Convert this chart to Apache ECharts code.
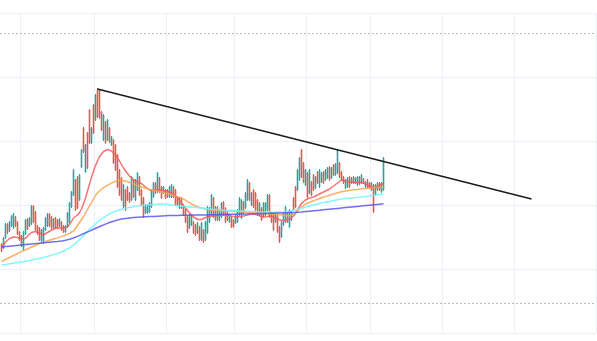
<!DOCTYPE html>
<html>
<head>
<meta charset="utf-8">
<script src="https://cdn.jsdelivr.net/npm/echarts@6/dist/echarts.min.js"></script>
<style>
  html, body { margin: 0; padding: 0; background: #fff; }
  #chart { width: 597px; height: 341px; }
</style>
</head>
<body>
<div id="chart"></div>
<script>
// x axis: one slot per day, only the first part holds candles
const categories = Array.from({ length: 298 }, (_, i) => "D" + (i + 1));
// category indices where the vertical grid lines fall
const gridMarks = [10, 47, 83, 117, 153, 185, 221, 257];

// [open, close, low, high]
const candles = [
  [89,82,81,90],[85,95,84,96],[95,109,94,110],[109,100,99,110],[102,111,101,112],
  [107,117,106,118],[105,119,104,120],[116,107,106,117],[111,99,98,112],[101,93,92,102],
  [97,87,86,98],[83,101,82,102],[99,113,98,114],[114,104,103,115],[107,115,106,116],
  [109,127,108,128],[127,111,110,128],[121,103,102,122],[107,99,98,108],[105,93,92,106],
  [92,103,91,104],[90,105,89,106],[103,115,102,116],[107,119,106,120],[119,107,106,120],
  [116,105,104,117],[105,114,104,115],[115,105,104,116],[113,105,104,114],[107,114,106,115],
  [111,103,102,112],[107,101,100,108],[101,107,100,108],[106,120,105,121],[111,130,110,131],
  [126,141,125,142],[138,163,137,164],[153,123,122,154],[156,125,124,157],[133,158,132,159],
  [166,183,165,184],[205,181,180,206],[161,188,160,189],[200,165,164,201],[223,190,189,224],
  [190,205,189,206],[228,200,199,229],[213,238,212,239],[243,216,215,245],[243,215,214,244],
  [221,203,202,222],[193,218,192,219],[211,190,189,212],[193,213,192,214],[205,191,190,206],
  [188,196,187,197],[193,170,169,194],[188,163,162,189],[178,146,145,179],[163,138,137,164],
  [155,133,132,156],[126,148,125,149],[143,123,122,144],[146,133,132,147],[140,131,130,141],
  [133,156,132,157],[153,136,135,154],[133,153,132,154],[143,160,142,161],[156,138,137,157],
  [143,128,127,144],[135,116,115,136],[120,128,119,129],[120,128,119,129],[121,130,120,131],
  [126,143,125,144],[136,150,135,151],[150,140,139,151],[141,160,140,161],[155,141,140,156],
  [146,135,134,147],[140,146,139,147],[143,135,134,144],[143,136,135,144],[136,146,135,147],
  [136,148,135,149],[146,136,135,147],[143,128,127,144],[136,128,127,137],[125,135,124,136],
  [135,125,124,136],[128,118,117,129],[123,111,110,124],[116,101,100,117],[105,118,104,119],
  [108,118,107,119],[111,100,99,112],[108,98,97,109],[100,110,99,111],[106,93,92,107],
  [93,110,92,111],[103,91,90,104],[93,111,92,112],[100,126,99,127],[111,125,110,126],
  [118,138,117,139],[135,116,115,136],[113,126,112,127],[126,113,112,127],[113,123,112,124],
  [116,130,115,131],[131,118,117,132],[125,111,110,126],[120,113,112,121],[111,118,110,119],
  [116,106,105,117],[113,106,105,114],[110,118,109,119],[111,123,110,124],[118,135,117,136],
  [115,133,114,134],[131,120,119,132],[125,140,124,141],[133,153,132,154],[150,133,132,151],
  [128,140,127,141],[143,126,125,144],[140,123,122,141],[133,118,117,134],[118,130,117,131],
  [125,113,112,126],[116,130,115,131],[118,130,117,131],[123,138,122,139],[138,116,115,139],
  [120,111,110,121],[120,103,102,121],[111,120,110,121],[118,101,100,119],[106,91,90,107],
  [96,111,95,112],[108,120,107,121],[111,126,110,127],[120,111,110,121],[106,123,105,124],
  [113,121,112,122],[135,123,122,136],[146,126,125,147],[143,163,142,164],[153,175,152,176],
  [183,156,155,184],[170,151,150,171],[148,163,147,164],[160,136,135,161],[140,163,139,164],
  [151,138,137,152],[158,143,142,159],[145,156,144,157],[161,150,149,162],[146,163,145,164],
  [151,160,150,161],[161,150,149,162],[153,163,152,164],[155,165,154,166],[166,153,152,167],
  [155,165,154,166],[168,158,157,169],[158,169,157,170],[160,183,159,184],[170,156,155,171],
  [161,153,152,162],[156,150,149,157],[145,153,144,154],[146,155,145,156],[156,146,145,157],
  [150,155,149,156],[156,150,149,157],[150,155,149,156],[148,156,147,157],[156,149,148,157],
  [150,158,149,159],[154,150,149,155],[146,151,145,152],[153,146,145,154],[150,145,144,151],
  [143,150,142,151],[148,121,120,149],[138,148,137,149],[143,150,142,151],[150,143,142,151],
  [141,150,140,151],[143,175,142,176]
];

const maFast = [
  85,88,91,93,94.5,95.5,96,96,95.5,95,
  94,93,94.5,97,99,100.5,101,101.5,101,100,
  99,98,99,100.5,102,103,104,104.5,105,105,
  105,105,105.5,106,108,111.5,115,116.5,118,120.5,
  124,129,135,142,149,155.5,162,167.5,172,176,
  179,181.5,183,183.5,183,182,180.5,178,175,172,
  168.5,165,162,159.5,157,155,153.5,152,151,150.5,
  149.5,148,146,144,143,142.5,142.5,143,143.5,143.5,
  143,142.5,142,141.5,141,140,139,137,135,132.5,
  130,127.5,125,122.5,120,118,116,114.5,113.5,113,
  113.5,114.5,115.5,116,116.5,117,117,117,117.5,118,
  118,118.5,118.5,118,117.5,117,116.5,116,116,116,
  116.5,117,117.5,118,118.5,119,119,118.5,118,117,
  116.5,116,116,116.5,117,116.5,116,115,114,113,
  112.5,112.5,113,113.5,114,115,117,119.5,123,126.5,
  129.5,131.5,133,134,135,135.5,136,137,138,139,
  140,141,142,143,144,145.5,147,148.5,150,151.5,
  153,152.5,152,151.5,151,151,150.5,150.5,150.5,150.5,
  150.5,150,149,148,147,146,145,145.5,146.5,147.5,
  148.5,150
];

const maMid = [
  71.5,72.5,73.5,74.5,75.5,76.5,77.5,78.5,79.5,80.5,
  81.4,82.3,83.2,84.1,85.0,85.9,86.8,87.7,88.6,89.5,
  90.3,91.0,91.6,92.2,92.8,93.4,94.0,94.6,95.1,95.6,
  96.4,97.2,98.0,98.8,99.6,100.6,102.0,104.5,107.5,110.5,
  113.5,116.5,120.0,123.5,127.0,130.5,134.0,137.5,140.0,142.0,
  143.8,145.3,146.6,147.8,148.8,149.8,150.8,151.8,152.6,152.8,
  152.8,152.5,152.0,151.3,150.6,149.9,149.1,148.3,147.5,146.6,
  146.0,145.4,144.8,144.2,143.6,143.2,142.8,142.4,142.0,141.6,
  141.2,140.6,140.0,139.4,138.8,138.2,137.6,137.0,136.4,135.8,
  135.0,134.0,132.8,131.6,130.4,129.2,128.0,127.0,126.2,125.5,
  124.9,124.4,124.0,123.6,123.3,123.0,122.8,122.6,122.5,122.4,
  122.3,122.2,122.1,122.0,121.9,121.8,121.7,121.6,121.5,121.4,
  121.2,121.0,120.9,120.8,120.7,120.6,120.5,120.4,120.3,120.2,
  120.0,119.8,119.6,119.4,119.2,119.0,118.8,118.6,118.4,118.2,
  118.0,117.8,117.6,117.4,117.2,117.3,118.5,120.0,122.0,124.0,
  126.0,128.0,129.0,129.8,130.6,131.4,132.2,133.0,133.8,134.6,
  135.3,136.0,136.6,137.2,137.8,138.4,139.0,139.6,140.2,140.7,
  141.2,141.6,142.0,142.4,142.8,143.0,143.2,143.4,143.6,143.8,
  144.0,144.2,144.4,144.6,144.8,145.0,145.2,145.4,145.6,145.8,
  146.0,146.0
];

const maSlow = [
  68.0,68.3,68.6,68.9,69.2,69.5,69.8,70.1,70.4,70.7,
  71.0,71.4,71.8,72.2,72.6,73.0,73.4,73.8,74.2,74.6,
  75.0,75.5,76.0,76.6,77.2,77.8,78.4,79.0,79.6,80.3,
  81.0,82.0,83.0,84.0,85.2,86.5,88.0,89.8,91.6,93.5,
  95.4,97.4,99.4,101.4,103.4,105.4,107.2,109.0,110.8,112.5,
  114.0,115.4,116.7,118.0,119.2,120.2,121.0,121.8,122.5,123.2,
  123.8,124.3,124.8,125.2,125.6,126.0,126.3,126.6,126.9,127.2,
  127.4,127.6,127.8,128.0,128.2,128.4,128.6,128.7,128.8,128.9,
  129.0,128.9,128.7,128.5,128.3,128.0,127.8,127.6,127.3,127.1,
  126.9,126.7,126.5,126.3,126.1,125.9,125.7,125.5,125.3,125.1,
  124.9,124.7,124.5,124.3,124.1,123.9,123.7,123.6,123.4,123.2,
  123.0,122.9,122.8,122.7,122.6,122.5,122.4,122.3,122.2,122.1,
  122.0,121.9,121.8,121.7,121.6,121.5,121.4,121.3,121.2,121.1,
  121.0,121.0,121.0,120.9,120.9,120.9,120.8,120.8,120.8,120.8,
  120.9,121.0,121.2,121.5,121.8,122.2,122.7,123.2,123.7,124.3,
  124.9,125.5,126.0,126.5,127.0,127.5,128.0,128.5,129.0,129.5,
  130.0,130.4,130.8,131.2,131.6,132.0,132.4,132.8,133.2,133.6,
  134.0,134.2,134.4,134.6,134.8,135.0,135.2,135.4,135.6,135.8,
  136.0,136.2,136.5,136.8,137.0,137.3,137.6,137.9,138.2,138.5,
  138.8,139.0
];

const maLong = [
  86.0,86.2,86.4,86.6,86.8,87.0,87.2,87.4,87.6,87.8,
  88.0,88.2,88.4,88.6,88.8,89.0,89.2,89.4,89.6,89.8,
  90.0,90.2,90.4,90.6,90.8,91.0,91.2,91.4,91.6,91.8,
  92.1,92.4,92.8,93.2,93.7,94.3,95.0,95.8,96.6,97.5,
  98.4,99.3,100.2,101.1,101.9,102.8,103.7,104.6,105.5,106.4,
  107.3,108.1,108.9,109.7,110.5,111.2,111.8,112.4,113.0,113.5,
  113.9,114.2,114.5,114.8,115.0,115.2,115.4,115.5,115.7,115.8,
  116.0,116.1,116.2,116.3,116.4,116.5,116.6,116.7,116.8,116.9,
  117.0,117.1,117.2,117.3,117.4,117.5,117.5,117.6,117.6,117.7,
  117.7,117.7,117.8,117.8,117.8,117.8,117.9,117.9,117.9,118.0,
  118.0,118.1,118.1,118.2,118.2,118.3,118.3,118.4,118.4,118.5,
  118.5,118.6,118.6,118.7,118.7,118.8,118.8,118.9,118.9,119.0,
  119.0,119.1,119.1,119.2,119.2,119.3,119.3,119.4,119.4,119.5,
  119.5,119.6,119.6,119.7,119.7,119.8,119.8,119.9,119.9,120.0,
  120.0,120.1,120.2,120.3,120.4,120.5,120.6,120.7,120.8,120.9,
  121.0,121.2,121.4,121.6,121.8,122.0,122.2,122.4,122.6,122.8,
  123.0,123.2,123.4,123.6,123.8,124.0,124.2,124.4,124.6,124.8,
  125.0,125.2,125.4,125.6,125.8,126.0,126.2,126.4,126.6,126.8,
  127.0,127.2,127.4,127.6,127.8,128.0,128.2,128.4,128.6,128.8,
  129.0,129.2
];

// trend line: [category index, value] at each end
const trendFrom = [48, 244];
const trendTo = [265, 134];
// dotted horizontal levels
const levels = [300, 30];

const UP = "#26a69a";
const DOWN = "#ef5350";

const chart = echarts.init(document.getElementById("chart"));

// thin candles: drawn by hand through the axes, ECharts' own candlestick greys them out at this width
const renderCandle = (params, api) => {
  const i = api.value(0);
  const open = api.value(1);
  const close = api.value(2);
  const top = api.coord([i, api.value(4)]);
  const bottom = api.coord([i, api.value(3)]);
  const bodyTop = api.coord([i, Math.max(open, close)]);
  const bodyBottom = api.coord([i, Math.min(open, close)]);
  const color = close >= open ? UP : DOWN;
  return {
    type: "group",
    children: [
      {
        type: "line",
        shape: { x1: top[0], y1: top[1], x2: bottom[0], y2: bottom[1] },
        style: { stroke: color, lineWidth: 1 },
      },
      {
        type: "rect",
        shape: { x: bodyTop[0] - 0.8, y: bodyTop[1], width: 1.6, height: Math.max(1, bodyBottom[1] - bodyTop[1]) },
        style: { fill: color },
      },
    ],
  };
};

const maLine = (name, data, color) => ({
  name,
  type: "line",
  data,
  showSymbol: false,
  silent: true,
  lineStyle: { color, width: 1.5, opacity: 0.85 },
  z: 3,
});

chart.setOption({
  animation: false,
  backgroundColor: "#fff",
  grid: { left: 0.5, right: 0.5, top: 13, bottom: 8 },
  xAxis: {
    type: "category",
    data: categories,
    axisLine: { show: false },
    axisTick: { show: false },
    axisLabel: { show: false },
    splitLine: {
      show: true,
      interval: (idx) => gridMarks.includes(idx),
      lineStyle: { color: "#eef0f7", width: 1 },
    },
  },
  yAxis: {
    type: "value",
    min: 0,
    max: 320,
    interval: 64,
    axisLine: { show: false },
    axisTick: { show: false },
    axisLabel: { show: false },
    splitLine: { lineStyle: { color: "#eef0f7", width: 1 } },
  },
  series: [
    {
      type: "custom",
      renderItem: renderCandle,
      data: candles.map((c, i) => [i, ...c]),
      encode: { x: 0, y: [1, 2, 3, 4] },
      silent: true,
      z: 2,
    },
    maLine("MA5", maFast, "#f25a5a"),
    maLine("MA10", maMid, "#ffa04d"),
    maLine("MA20", maSlow, "#6ef6fb"),
    {
      ...maLine("MA60", maLong, "#5757f2"),
      markLine: {
        silent: true,
        symbol: "none",
        label: { show: false },
        animation: false,
        data: [
          [
            { coord: [categories[trendFrom[0]], trendFrom[1]], lineStyle: { color: "#1a1a1a", width: 1.3, type: "solid", opacity: 1 } },
            { coord: [categories[trendTo[0]], trendTo[1]] },
          ],
          ...levels.map((v) => ({ yAxis: v, lineStyle: { color: "#777", width: 1, type: [1, 3], opacity: 1 } })),
        ],
      },
    },
  ],
});
</script>
</body>
</html>
